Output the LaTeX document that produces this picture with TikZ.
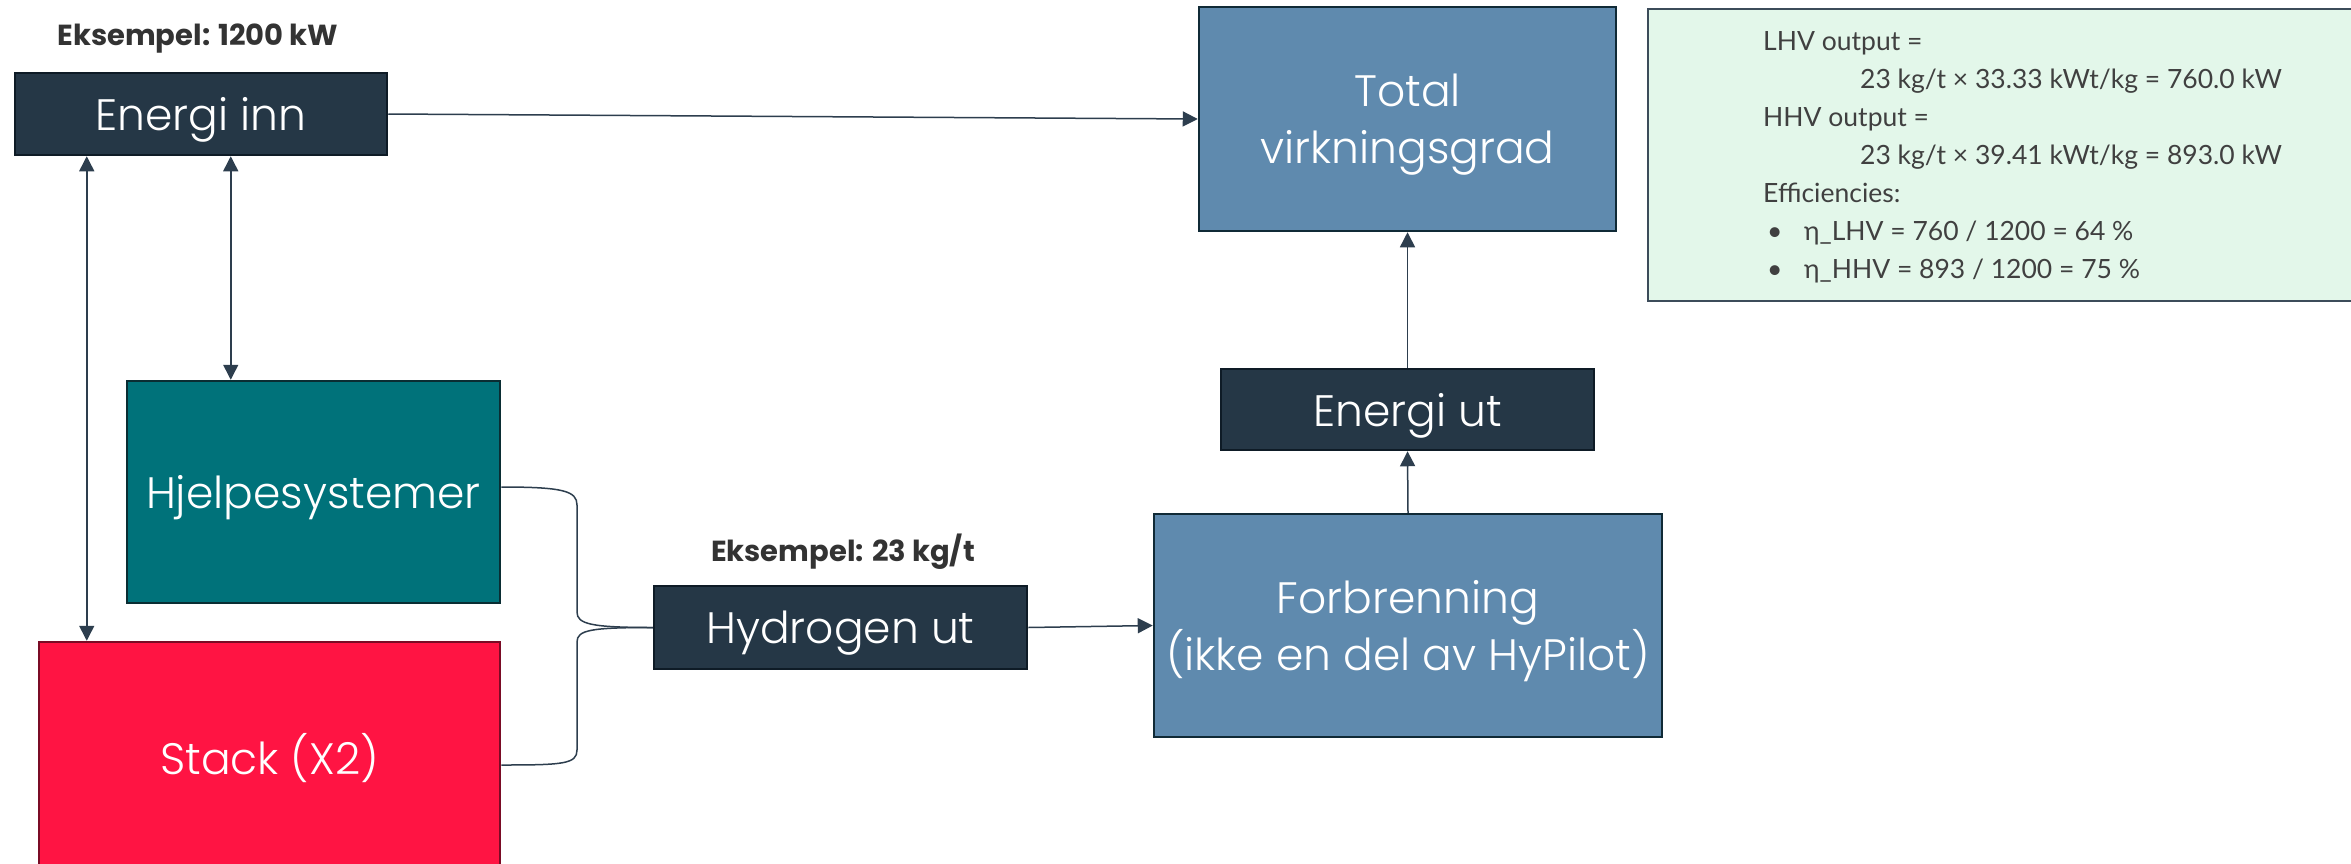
\documentclass[tikz,border=0pt]{standalone}
\usepackage{fontspec}
\setmainfont{Poppins}
\newfontfamily\lightfont{Poppins Light}
\newfontfamily\notefont{Lato}
\usetikzlibrary{arrows.meta}
\definecolor{navy}{HTML}{253746}
\definecolor{navyedge}{HTML}{0E1B26}
\definecolor{steel}{HTML}{5F8AAE}
\definecolor{steeledge}{HTML}{102A36}
\definecolor{teal}{HTML}{00727A}
\definecolor{tealedge}{HTML}{0A2D33}
\definecolor{stackred}{HTML}{FF1443}
\definecolor{stackedge}{HTML}{7A0B25}
\definecolor{notefill}{HTML}{E3F7EA}
\definecolor{noteedge}{HTML}{3C4C5A}
\definecolor{connc}{HTML}{2D3E4E}
\definecolor{labelc}{HTML}{333333}
\definecolor{notec}{HTML}{404040}
\tikzset{
  boxnode/.style={draw, line width=2.5pt, text=white, inner sep=0pt, align=center,
    text depth=0pt, font=\lightfont\fontsize{44}{57}\selectfont},
  conn/.style={draw=connc, line width=1.5pt},
  tip/.tip={Triangle[length=15pt,width=15pt]},
  exlabel/.style={text=labelc, inner sep=0pt, font=\bfseries\fontsize{29}{34}\selectfont},
  notetext/.style={anchor=base west, inner sep=0pt, text=notec,
    font=\notefont\fontsize{26.5}{30}\selectfont}
}
\begin{document}
\begin{tikzpicture}[x=1pt,y=-1pt]
\useasboundingbox (0,0) rectangle (2351,863);
\fill[white] (0,0) rectangle (2351,863);

\node[exlabel] (ex1) at (198,39) {Eksempel: 1200 kW};
\node[exlabel] (ex2) at (843,552) {Eksempel: 23 kg/t};

\node[boxnode, fill=navy, draw=navyedge, minimum width=372pt, minimum height=82pt] (inn) at (201,114) {Energi inn};
\node[boxnode, fill=steel, draw=steeledge, minimum width=417pt, minimum height=224pt] (total) at (1407.5,119) {Total\\virkningsgrad};
\node[boxnode, fill=navy, draw=navyedge, minimum width=373pt, minimum height=81pt] (ut) at (1407.5,409.5) {Energi ut};
\node[boxnode, fill=steel, draw=steeledge, minimum width=508pt, minimum height=223pt] (forb) at (1408,625.5) {Forbrenning\\(ikke en del av HyPilot)};
\node[boxnode, fill=teal, draw=tealedge, minimum width=373pt, minimum height=222pt] (hjelp) at (313.5,492) {Hjelpesystemer};
\node[boxnode, fill=stackred, draw=stackedge, minimum width=461pt, minimum height=224pt] (stack) at (269.5,754) {Stack (X2)};
\node[boxnode, fill=navy, draw=navyedge, minimum width=373pt, minimum height=83pt] (hyd) at (840.5,627.5) {Hydrogen ut};

\node[draw=noteedge, fill=notefill, line width=2pt, anchor=north west, minimum width=730pt, minimum height=292pt, inner sep=0pt] (note) at (1647,8) {};
\node[notetext] (n1) at (1763,50) {LHV output =};
\node[notetext] (n2) at (1860,88) {23 kg/t × 33.33 kWt/kg = 760.0 kW};
\node[notetext] (n3) at (1763,126) {HHV output =};
\node[notetext] (n4) at (1860,164) {23 kg/t × 39.41 kWt/kg = 893.0 kW};
\node[notetext] (n5) at (1763,202) {Efficiencies:};
\node[notetext] (n6) at (1767,240) {\makebox[37pt][l]{•}η\_LHV = 760 / 1200 = 64 \%};
\node[notetext] (n7) at (1767,278) {\makebox[37pt][l]{•}η\_HHV = 893 / 1200 = 75 \%};

\draw[conn,-tip] (inn.east) -- (total.west);
\draw[conn,tip-tip] ([xshift=217pt]inn.south west) -- ([xshift=105pt]hjelp.north west);
\draw[conn,tip-tip] ([xshift=73pt]inn.south west) -- ([xshift=49pt]stack.north west);
\draw[conn,-tip] (hyd.east) -- (forb.west);
\draw[conn,-tip] (forb.north) -- (ut.south);
\draw[conn,-tip] (ut.north) -- (total.south);

\draw[conn] ([yshift=5pt]hjelp.east) .. controls +(62,0) and +(0,-14) .. (577,505) -- (577,612)
  .. controls +(0,12) and +(-62,0) .. (hyd.west);
\draw[conn] ([yshift=-11pt]stack.east) .. controls +(62,0) and +(0,14) .. (577,750) -- (577,642)
  .. controls +(0,-12) and +(-62,0) .. (hyd.west);
\end{tikzpicture}
\end{document}
